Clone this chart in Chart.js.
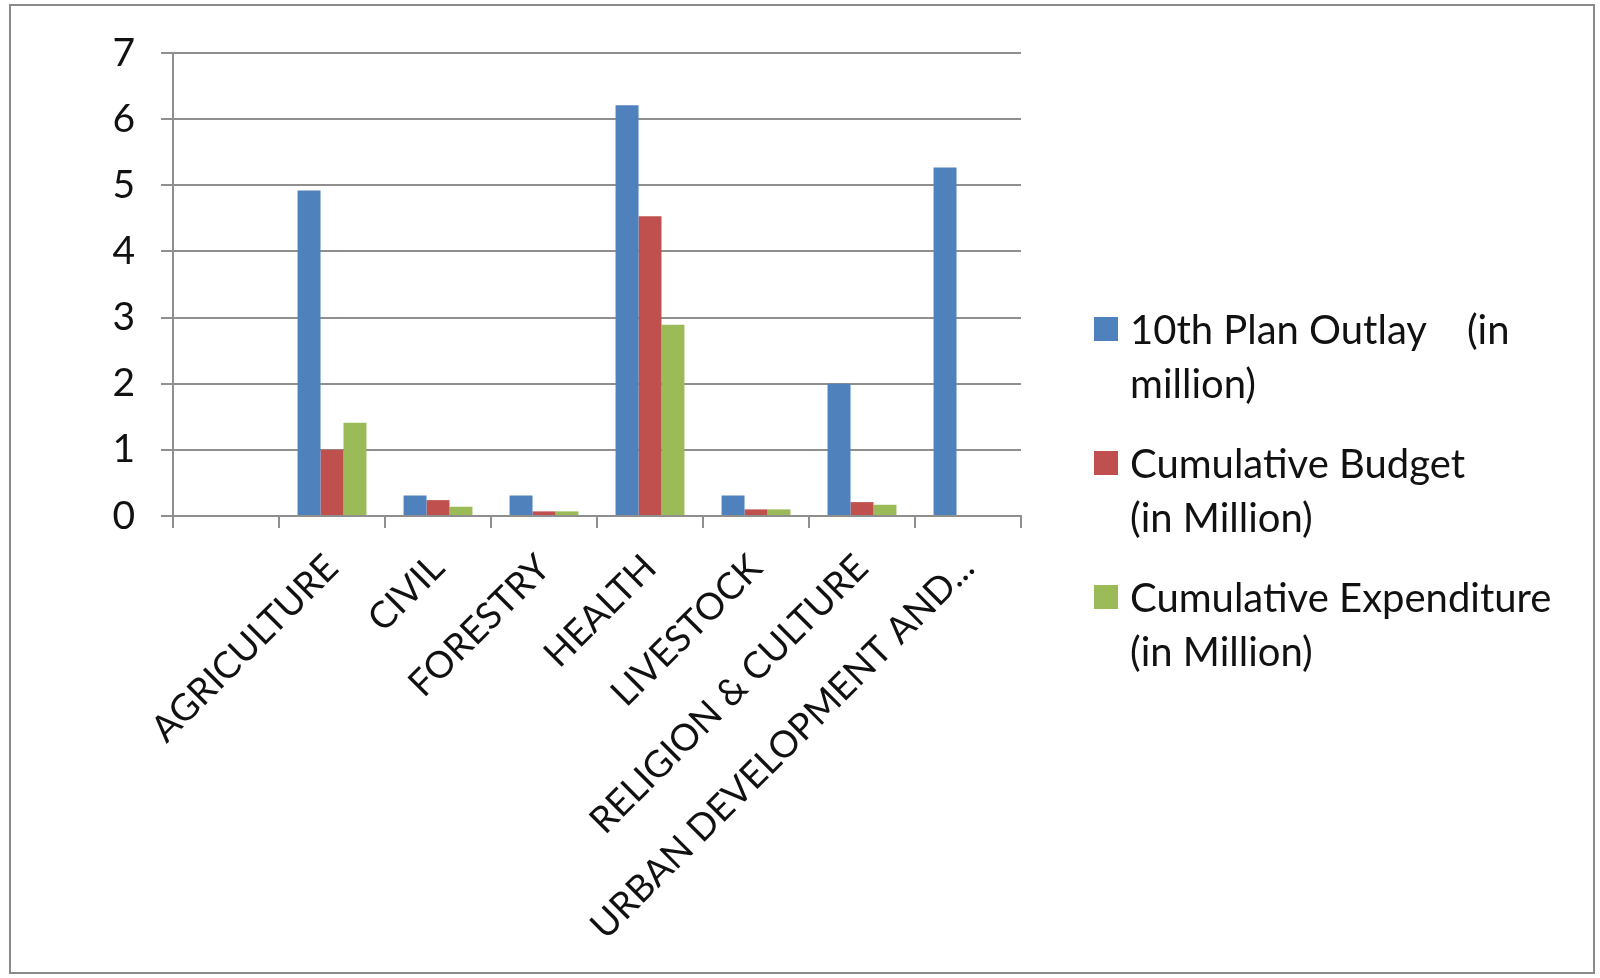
<!DOCTYPE html>
<html>
<head>
<meta charset="utf-8">
<script src="https://cdn.jsdelivr.net/npm/chart.js@4"></script>
<style>
  body { margin: 0; background: #fff; }
  #wrap { position: relative; width: 1600px; height: 978px; }
  #frame { position: absolute; left: 9px; top: 4px; width: 1586px; height: 970px; border: 2px solid #8a8a8a; box-sizing: border-box; }
  #legend { position: absolute; left: 1094px; top: 302px; font-family: Lato, "Open Sans", sans-serif; font-size: 40px; color: #111; }
  .item { position: relative; padding-left: 36px; line-height: 54px; margin-bottom: 26px; width: 490px; }
  .sw { position: absolute; left: 0; top: 15px; width: 24px; height: 24px; }
</style>
</head>
<body>
<div id="wrap">
  <canvas id="chart" width="1600" height="978"></canvas>
  <div id="frame"></div>
  <div id="legend"></div>
</div>
<script>
const categories = ["", "AGRICULTURE", "CIVIL", "FORESTRY", "HEALTH", "LIVESTOCK", "RELIGION & CULTURE", "URBAN DEVELOPMENT AND..."];
const outlay = [null, 4.92, 0.31, 0.31, 6.21, 0.31, 2.0, 5.27];
const budget = [null, 1.0, 0.24, 0.07, 4.53, 0.1, 0.21, 0];
const expenditure = [null, 1.41, 0.14, 0.07, 2.89, 0.1, 0.17, 0];
const seriesNames = [["10th Plan Outlay    (in", "million)"], ["Cumulative Budget", "(in Million)"], ["Cumulative Expenditure", "(in Million)"]];
const colors = ["#4F81BD", "#C0504D", "#9BBB59"];
const yTicks = [0, 1, 2, 3, 4, 5, 6, 7];

const gridColor = "#8f8f8f";
const font = "Lato, 'Open Sans', sans-serif";

const ctx = document.getElementById("chart").getContext("2d");
new Chart(ctx, {
  type: "bar",
  data: {
    labels: categories,
    datasets: [outlay, budget, expenditure].map((d, i) => ({
      label: seriesNames[i].join(" "),
      data: d,
      backgroundColor: colors[i],
      borderWidth: 0,
      categoryPercentage: 0.65,
      barPercentage: 1.0,
    })),
  },
  options: {
    responsive: false,
    animation: false,
    layout: { padding: { top: 53, right: 579, left: 0, bottom: 0 } },
    plugins: {
      legend: { display: false },
      tooltip: { enabled: false },
    },
    scales: {
      x: {
        grid: { offset: true, drawOnChartArea: false, drawTicks: true, tickLength: 12, color: gridColor, lineWidth: 2 },
        border: { color: gridColor, width: 2 },
        ticks: {
          color: "#111",
          font: { family: font, size: 37 },
          minRotation: 45,
          maxRotation: 45,
          autoSkip: false,
          padding: 18,
        },
        afterFit: s => { s.height = 978 - 516; },
      },
      y: {
        min: 0,
        max: 7,
        afterBuildTicks: s => { s.ticks = yTicks.map(v => ({ value: v })); },
        grid: { color: gridColor, lineWidth: 2, tickLength: 12 },
        border: { color: gridColor, width: 2 },
        ticks: { color: "#111", font: { family: font, size: 39 }, padding: 26 },
        afterFit: s => { s.width = 173; },
      },
    },
  },
});

const legend = document.getElementById("legend");
seriesNames.forEach((lines, i) => {
  const item = document.createElement("div");
  item.className = "item";
  const sw = document.createElement("span");
  sw.className = "sw";
  sw.style.background = colors[i];
  item.appendChild(sw);
  lines.forEach(t => {
    const line = document.createElement("div");
    line.textContent = t;
    line.style.whiteSpace = "pre";
    item.appendChild(line);
  });
  legend.appendChild(item);
});
</script>
</body>
</html>
